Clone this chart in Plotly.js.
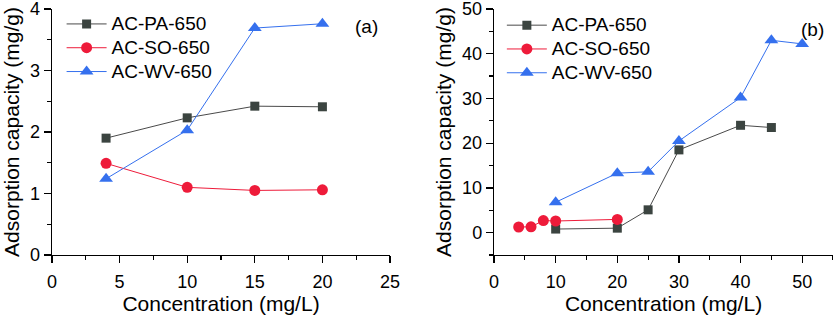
<!DOCTYPE html>
<html><head><meta charset="utf-8">
<script src="https://cdn.plot.ly/plotly-3.0.1.min.js"></script>
<style>html,body{margin:0;padding:0;background:#fff}#plot{width:833px;height:315px}</style>
</head><body><div id="plot"></div>
<script>
// Panel (a)
const aX_PA = [4, 10, 15, 20];
const aY_PA = [1.90, 2.23, 2.42, 2.41];
const aX_SO = [4, 10, 15, 20];
const aY_SO = [1.49, 1.10, 1.05, 1.06];
const aX_WV = [4, 10, 15, 20];
const aY_WV = [1.24, 2.03, 3.69, 3.76];
// Panel (b)
const bX_PA = [10, 20, 25, 30, 40, 45];
const bY_PA = [0.8, 1.0, 5.1, 18.5, 24.0, 23.5];
const bX_SO = [4, 6, 8, 10, 20];
const bY_SO = [1.26, 1.3, 2.7, 2.6, 2.96];
const bX_WV = [10, 20, 25, 30, 40, 45, 50];
const bY_WV = [6.8, 13.3, 13.6, 20.5, 30.2, 43.0, 42.2];
const names = ['AC-PA-650', 'AC-SO-650', 'AC-WV-650'];
const panelLabels = ['(a)', '(b)'];
const yTitle = 'Adsorption capacity (mg/g)';
const xTitle = 'Concentration (mg/L)';

const sty = [
  {line:{color:'#4a4a4a', width:1}, marker:{symbol:'square', size:9, color:'#3b4440'}},
  {line:{color:'#ee1b3a', width:1}, marker:{symbol:'circle', size:11, color:'#ee1b3a'}},
  {line:{color:'#3570ee', width:1}, marker:{symbol:'triangle-up', size:12, color:'#3570ee'}}
];
// legend rows are spaced by the 16px legend font; the name itself is drawn at 19px
const legName = n => '<span style="font-size:19px">' + n + '</span>';
function tr(x, y, i, xa, ya, leg) {
  return Object.assign({x:x, y:y, name:legName(names[i]), type:'scatter', mode:'lines+markers',
    xaxis:xa, yaxis:ya, legend:leg, cliponaxis:false}, sty[i]);
}
const data = [
  tr(aX_PA, aY_PA, 0, 'x', 'y', 'legend'),
  tr(aX_SO, aY_SO, 1, 'x', 'y', 'legend'),
  tr(aX_WV, aY_WV, 2, 'x', 'y', 'legend'),
  tr(bX_PA, bY_PA, 0, 'x2', 'y2', 'legend2'),
  tr(bX_SO, bY_SO, 1, 'x2', 'y2', 'legend2'),
  tr(bX_WV, bY_WV, 2, 'x2', 'y2', 'legend2')
];
const font = {family:'Liberation Sans, Arial, sans-serif', color:'#000'};
const minorBase = {ticks:'outside', ticklen:3.5, tickwidth:1.2, tickcolor:'#000', showgrid:false};
function ax(extra) {
  return Object.assign({
    showline:true, linecolor:'#000', linewidth:1.3, mirror:false,
    showgrid:false, zeroline:false,
    ticks:'outside', ticklen:7, tickwidth:1.2, tickcolor:'#000',
    ticklabeloverflow:'allow',
    tickfont:Object.assign({size:18}, font)
  }, extra);
}
const titleFont = Object.assign({size:21}, font);
const legStyle = {bgcolor:'rgba(0,0,0,0)', font:Object.assign({size:16}, font),
  itemwidth:40, xanchor:'left', yanchor:'top'};
const T = 9, H = 315 - 9 - 60, L = 52, W = 833 - 52;
const px2x = p => (p - L) / W;
const py2y = p => 1 - (p - T) / H;
const labFont = Object.assign({size:19}, font);
const layout = {
  width:833, height:315,
  margin:{l:L, r:0, t:T, b:60},
  paper_bgcolor:'#fff', plot_bgcolor:'#fff',
  font:font,
  showlegend:true,
  xaxis: ax({domain:[0, 0.4328], range:[0, 25], dtick:5, minor:Object.assign({dtick:2.5}, minorBase), ticklabelstandoff:3,
    title:{text:xTitle, font:titleFont, standoff:4}, anchor:'y'}),
  yaxis: ax({range:[0, 4], dtick:1, minor:Object.assign({dtick:0.5}, minorBase),
    title:{text:yTitle, font:titleFont, standoff:4}, anchor:'x'}),
  xaxis2: ax({domain:[0.566, 1], range:[0, 55], dtick:10, minor:Object.assign({dtick:5}, minorBase), ticklabelstandoff:3,
    title:{text:xTitle, font:titleFont, standoff:4}, anchor:'y2'}),
  yaxis2: ax({range:[-5, 50], tickvals:[0,10,20,30,40,50], minor:Object.assign({tickvals:[-5,5,15,25,35,45]}, minorBase),
    title:{text:yTitle, font:titleFont, standoff:4}, anchor:'x2'}),
  legend: Object.assign({x:0.0123, y:1.008}, legStyle),
  legend2: Object.assign({x:0.576, y:1.003}, legStyle),
  annotations:[
    {text:panelLabels[0], xref:'paper', yref:'paper', x:px2x(380), y:py2y(27), xanchor:'right', yanchor:'middle', showarrow:false, font:labFont},
    {text:panelLabels[1], xref:'paper', yref:'paper', x:px2x(826), y:py2y(29), xanchor:'right', yanchor:'middle', showarrow:false, font:labFont}
  ]
};
Plotly.newPlot('plot', data, layout, {displayModeBar:false, staticPlot:true});
</script></body></html>
